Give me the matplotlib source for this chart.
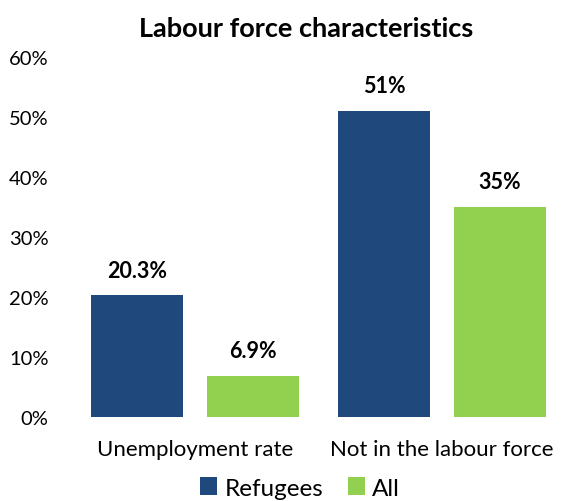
import matplotlib
matplotlib.use("Agg")
import matplotlib.pyplot as plt
import numpy as np

categories = ["Unemployment rate", "Not in the labour force"]
series_names = ["Refugees", "All"]
refugees = [20.3, 51]
all_vals = [6.9, 35]
value_labels_ref = ["20.3%", "51%"]
value_labels_all = ["6.9%", "35%"]
yticks = [0, 10, 20, 30, 40, 50, 60]
ytick_labels = ["0%", "10%", "20%", "30%", "40%", "50%", "60%"]

colors = ["#1F497D", "#92D050"]
FONT = ["Lato", "DejaVu Sans"]
plt.rcParams['font.family'] = FONT

fig = plt.figure(figsize=(5.68, 5.02), dpi=100)
ax = fig.add_axes([72/568, 1-418/502, (565-72)/568, (418-58)/502])

x = np.arange(len(categories))
w = 0.373
off = 0.469/2
b1 = ax.bar(x - off, refugees, w, color=colors[0], label=series_names[0])
b2 = ax.bar(x + off, all_vals, w, color=colors[1], label=series_names[1])

for bars, labs in ((b1, value_labels_ref), (b2, value_labels_all)):
    for r, t in zip(bars, labs):
        ax.annotate(t, (r.get_x() + r.get_width()/2, r.get_height()),
                    xytext=(0, 18), textcoords="offset points",
                    ha="center", va="center", fontsize=15.5, fontweight="bold")

ax.set_ylim(0, 60)
ax.set_xlim(-0.5, 1.5)
ax.set_yticks(yticks)
ax.set_yticklabels(ytick_labels)
ax.set_xticks(x)
ax.set_xticklabels(categories)
ax.tick_params(axis="y", length=0, pad=17, labelsize=14.5)
ax.tick_params(axis="x", length=0, pad=16, labelsize=16)
for s in ax.spines.values():
    s.set_visible(False)

fig.suptitle("Labour force characteristics", x=306/568, y=1-29/502,
             va="center", fontsize=19.5, fontweight="bold")

leg = fig.legend(loc="center", bbox_to_anchor=(300/568, 1-489/502), ncol=2,
                 frameon=False, fontsize=17.5, handlelength=0.7, handleheight=0.7,
                 handletextpad=0.3, columnspacing=1.0, borderpad=0)

fig.savefig("out.png", dpi=100)
